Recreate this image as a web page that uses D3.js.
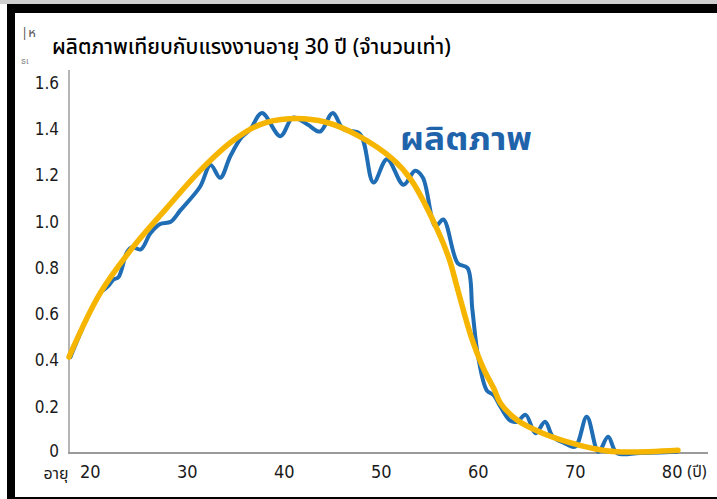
<!DOCTYPE html>
<html><head><meta charset="utf-8">
<script src="https://cdn.jsdelivr.net/npm/d3@7"></script>
<style>body{margin:0;background:#fff}svg{display:block}</style>
</head><body>
<script>
const titleText = "ผลิตภาพเทียบกับแรงงานอายุ 30 ปี (จำนวนเท่า)";
const seriesLabel = "ผลิตภาพ";
const xTicks = [20, 30, 40, 50, 60, 70, 80];
const yTicks = [0, 0.2, 0.4, 0.6, 0.8, 1.0, 1.2, 1.4, 1.6];
const yTickLabels = ["0", "0.2", "0.4", "0.6", "0.8", "1.0", "1.2", "1.4", "1.6"];
const blueAges = [18.0,21.1,21.9,22.5,23.0,23.9,24.4,25.3,26.3,27.3,28.4,29.4,31.4,32.5,33.5,34.5,35.6,36.6,37.8,39.7,41.0,42.5,43.8,45.1,46.2,47.9,49.3,50.7,52.4,53.6,54.4,55.7,56.5,58.0,59.0,59.5,60.1,61.0,61.7,62.4,63.4,64.1,65.0,66.0,67.0,67.8,68.9,70.1,71.3,72.5,73.5,74.4,76.8,80.7];
const blueValues = [0.41,0.69,0.72,0.75,0.76,0.87,0.89,0.88,0.95,0.99,1.00,1.05,1.15,1.245,1.19,1.28,1.36,1.40,1.47,1.37,1.45,1.42,1.39,1.47,1.40,1.38,1.17,1.27,1.16,1.22,1.19,0.98,1.01,0.82,0.80,0.62,0.415,0.27,0.25,0.20,0.14,0.135,0.165,0.085,0.135,0.07,0.045,0.027,0.157,0.005,0.07,0.0,0.0,0.005];
const trendAges = [17.9,21.1,24.5,28.0,31.4,34.8,37.6,40.6,44.4,47.8,51.3,53.2,55.9,57.1,58.0,59.4,60.7,61.7,62.4,64.1,66.5,69.3,71.9,74.4,80.7];
const trendValues = [0.415,0.69,0.89,1.06,1.22,1.35,1.42,1.445,1.43,1.37,1.27,1.18,0.965,0.84,0.705,0.50,0.36,0.28,0.215,0.143,0.09,0.048,0.02,0.005,0.012];

const W = 717, H = 499;
const svg = d3.select("body").append("svg").attr("width", W).attr("height", H);
svg.append("rect").attr("width", W).attr("height", H).attr("fill", "#fff");
// frame
svg.append("rect").attr("x", 0).attr("y", 0).attr("width", W).attr("height", 4).attr("fill", "#cfcfcf");
svg.append("rect").attr("x", 7).attr("y", 4).attr("width", W - 7).attr("height", 9).attr("fill", "#000");
svg.append("rect").attr("x", 7).attr("y", 4).attr("width", 8).attr("height", H - 4).attr("fill", "#000");
svg.append("rect").attr("x", 7).attr("y", 497).attr("width", W - 7).attr("height", 2).attr("fill", "#000");

const x = d3.scaleLinear().domain([17.8, 83.8]).range([68, 708]);
const y = d3.scaleLinear().domain([0, 1.656]).range([453, 70]);

const cond = "'DejaVu Sans Condensed','DejaVu Sans',sans-serif";
const thai = "'Noto Sans Thai','Noto Sans',sans-serif";
// axes lines
svg.append("line").attr("x1", x(17.8)+1).attr("x2", x(17.8)+1).attr("y1", y(1.656)).attr("y2", y(0)).attr("stroke", "#b5b5b5").attr("stroke-width", 2);
svg.append("line").attr("x1", x(17.8)).attr("x2", x(83.8)).attr("y1", y(0)).attr("y2", y(0)).attr("stroke", "#9a9a9a").attr("stroke-width", 2);

// y tick labels
svg.append("g").selectAll("text").data(yTicks).join("text")
  .attr("x", 59).attr("y", d => y(d) + (d === 0 ? 4 : 6))
  .attr("text-anchor", "end").attr("font-family", cond).attr("font-stretch", "condensed").attr("font-size", 17)
  .attr("fill", "#1a1a1a").text((d, i) => yTickLabels[i]);
// x tick labels
svg.append("g").selectAll("text").data(xTicks).join("text")
  .attr("x", d => x(d) + 1).attr("y", 478)
  .attr("text-anchor", "middle").attr("font-family", cond).attr("font-stretch", "condensed").attr("font-size", 18)
  .attr("fill", "#1a1a1a").text(d => d);
svg.append("text").attr("x", 56).attr("y", 479).attr("text-anchor", "middle")
  .attr("font-family", thai).attr("font-size", 16).attr("fill", "#1a1a1a").text("อายุ");
svg.append("text").attr("x", 697).attr("y", 477).attr("text-anchor", "middle")
  .attr("font-family", thai).attr("font-size", 16).attr("fill", "#1a1a1a").text("(ปี)");

// title
svg.append("text").attr("x", 52).attr("y", 54)
  .attr("font-family", thai).attr("font-size", 21).attr("font-weight", 500)
  .attr("fill", "#000").text(titleText);
// cropped fragments
svg.append("text").attr("x", 21).attr("y", 37).attr("font-family", thai)
  .attr("font-size", 13).attr("fill", "#555").text("|ห");
svg.append("text").attr("x", 21).attr("y", 64).attr("font-family", thai)
  .attr("font-size", 9).attr("fill", "#888").text("ธเ");

const blue = blueAges.map((a, i) => [a, blueValues[i]]);
const trend = trendAges.map((a, i) => [a, trendValues[i]]);
const line = d3.line().x(d => x(d[0])).y(d => y(d[1])).curve(d3.curveCatmullRom.alpha(0.5));
svg.append("path").attr("d", line(blue)).attr("fill", "none").attr("stroke", "#1f6db4").attr("stroke-width", 4).attr("stroke-linejoin", "round");
svg.append("path").attr("d", line(trend)).attr("fill", "none").attr("stroke", "#f6b500").attr("stroke-width", 5.5).attr("stroke-linecap", "round");

svg.append("text").attr("x", 400).attr("y", 150)
  .attr("font-family", thai).attr("font-size", 32).attr("font-weight", "bold")
  .attr("textLength", 132).attr("lengthAdjust", "spacingAndGlyphs")
  .attr("fill", "#1f64ab").text(seriesLabel);
</script>
</body></html>
